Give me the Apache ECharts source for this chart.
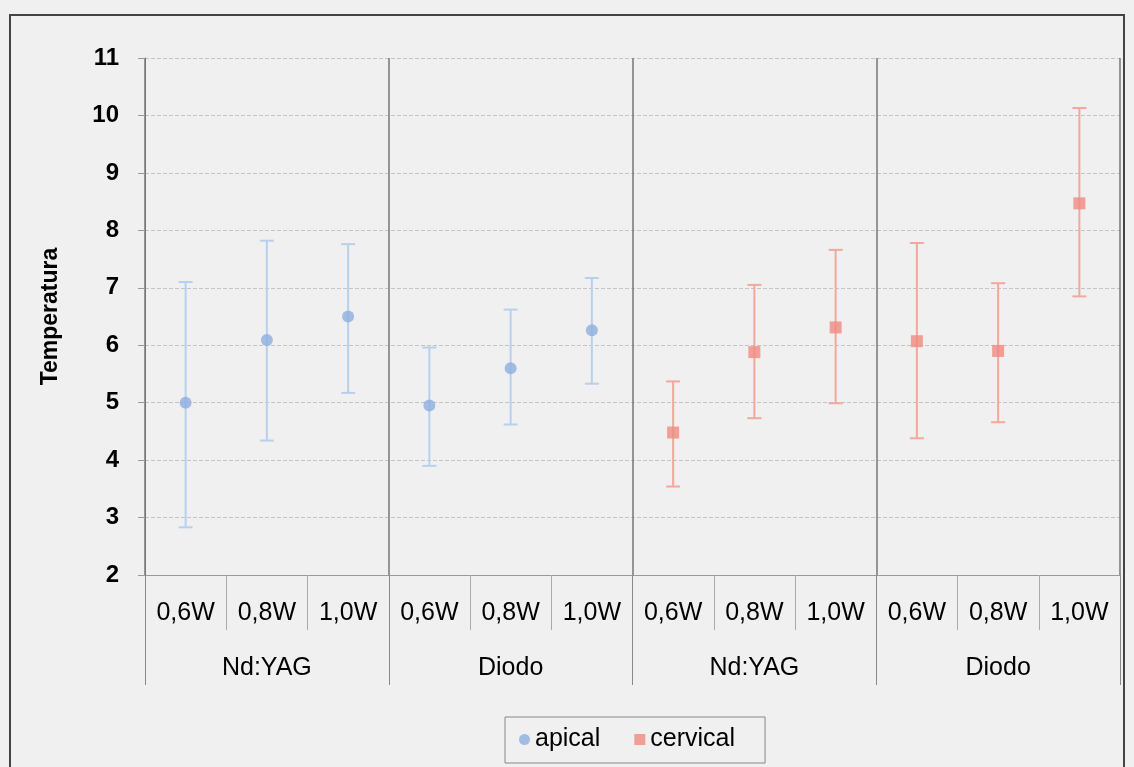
<!DOCTYPE html>
<html>
<head>
<meta charset="utf-8">
<script src="https://cdn.jsdelivr.net/npm/echarts@6/dist/echarts.min.js"></script>
<style>
html,body{margin:0;padding:0;background:#f0f0f0;}
#chart{width:1134px;height:767px;}
</style>
</head>
<body>
<div id="chart"></div>
<script>
const categories = ['0,6W','0,8W','1,0W','0,6W','0,8W','1,0W','0,6W','0,8W','1,0W','0,6W','0,8W','1,0W'];
const groups = ['Nd:YAG','Diodo','Nd:YAG','Diodo'];
const yTicks = [2,3,4,5,6,7,8,9,10,11];

// apical: first six categories (Nd:YAG, Diodo)
const apicalMean = [5.0, 6.09, 6.5, 4.95, 5.6, 6.26];
const apicalLow  = [2.83, 4.34, 5.17, 3.9, 4.62, 5.33];
const apicalHigh = [7.1, 7.82, 7.76, 5.96, 6.62, 7.17];
// cervical: last six categories (Nd:YAG, Diodo)
const cervicalMean = [4.48, 5.88, 6.31, 6.07, 5.9, 8.47];
const cervicalLow  = [3.54, 4.73, 4.99, 4.38, 4.66, 6.85];
const cervicalHigh = [5.37, 7.05, 7.66, 7.78, 7.08, 10.13];

const apicalStart = 0, cervicalStart = 6;

const FONT = 'Arial, "Liberation Sans", sans-serif';

function meanData(vals, start){ return vals.map((v,i)=>[start+i, v]); }
function errData(lo, hi, start){ return lo.map((v,i)=>[start+i, v, hi[i]]); }

function errRender(color){
  return function(params, api){
    const x = api.value(0);
    const lo = api.coord([x, api.value(1)]);
    const hi = api.coord([x, api.value(2)]);
    const cap = 7;
    const style = {stroke: color, lineWidth: 2};
    return {type:'group', children:[
      {type:'line', shape:{x1:lo[0], y1:hi[1], x2:lo[0], y2:lo[1]}, style: style},
      {type:'line', shape:{x1:lo[0]-cap, y1:hi[1], x2:lo[0]+cap, y2:hi[1]}, style: style},
      {type:'line', shape:{x1:lo[0]-cap, y1:lo[1], x2:lo[0]+cap, y2:lo[1]}, style: style}
    ]};
  };
}

const chart = echarts.init(document.getElementById('chart'));
chart.setOption({
  backgroundColor:'#f0f0f0',
  animation:false,
  graphic:[{type:'rect', shape:{x:10, y:15, width:1114, height:770}, style:{fill:'none', stroke:'#444', lineWidth:2}, z:-1}],
  grid:{left:145, right:14, top:58, bottom:192},
  legend:{
    data:['apical','cervical'],
    left:505, top:717,
    padding:[10,30,11,14],
    itemGap:34, itemWidth:11, itemHeight:11,
    borderColor:'#888', borderWidth:1,
    textStyle:{fontSize:25, color:'#000', fontFamily:FONT}
  },
  xAxis:[
    {type:'category', data:categories, position:'bottom',
     axisLine:{show:true, lineStyle:{color:'#999', width:1}},
     axisTick:{show:true, interval:0, length:55, lineStyle:{color:'#aaa'}},
     axisLabel:{interval:0, margin:26, fontSize:25, color:'#000', fontFamily:FONT},
     splitLine:{show:false}},
    {type:'category', data:groups, position:'bottom',
     axisLine:{show:false},
     axisTick:{show:true, interval:0, length:110, lineStyle:{color:'#888'}},
     axisLabel:{interval:0, margin:81, fontSize:25, color:'#000', fontFamily:FONT},
     splitLine:{show:true, interval:0, lineStyle:{color:'#777', width:1.5}}}
  ],
  yAxis:{type:'value', min:yTicks[0], max:yTicks[yTicks.length-1], interval:1,
    name:'Temperatura', nameLocation:'middle', nameGap:83,
    nameTextStyle:{fontSize:23, fontWeight:'bold', color:'#000', fontFamily:FONT},
    axisLine:{show:true, lineStyle:{color:'#777'}},
    axisTick:{show:true, length:7, lineStyle:{color:'#999'}},
    axisLabel:{margin:26, fontSize:24, fontWeight:'bold', color:'#000', fontFamily:FONT},
    splitLine:{show:true, lineStyle:{color:'#c4c4c4', type:'dashed', width:1}}
  },
  series:[
    {name:'apical_err', type:'custom', xAxisIndex:0, renderItem:errRender('#b8d0ee'),
     data:errData(apicalLow, apicalHigh, apicalStart), z:2, silent:true},
    {name:'cervical_err', type:'custom', xAxisIndex:0, renderItem:errRender('#f2a89c'),
     data:errData(cervicalLow, cervicalHigh, cervicalStart), z:2, silent:true},
    {name:'apical', type:'scatter', xAxisIndex:0, symbol:'circle', symbolSize:12,
     itemStyle:{color:'#8eaee0'}, data:meanData(apicalMean, apicalStart), z:3},
    {name:'cervical', type:'scatter', xAxisIndex:0, symbol:'rect', symbolSize:12,
     itemStyle:{color:'#f08a80'}, data:meanData(cervicalMean, cervicalStart), z:3}
  ]
});
</script>
</body>
</html>
